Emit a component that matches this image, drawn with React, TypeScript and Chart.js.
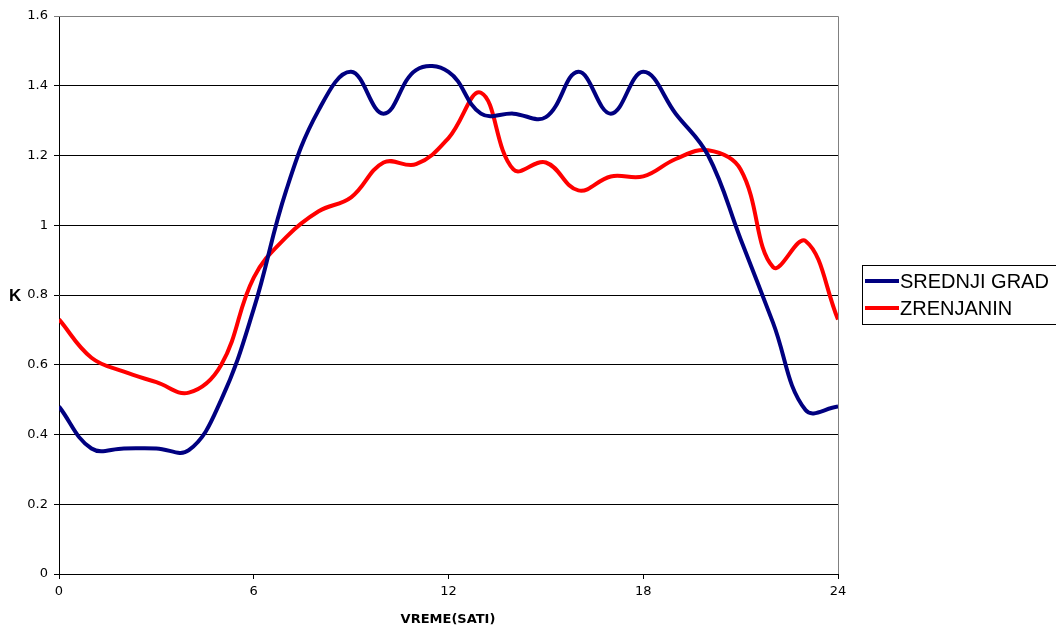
import React, { useEffect, useRef } from "react";
import { Chart, registerables } from "chart.js";

Chart.register(...registerables);

const hours = [0, 1, 2, 3, 4, 5, 6, 7, 8, 9, 10, 11, 12, 13, 14, 15, 16, 17, 18, 19, 20, 21, 22, 23, 24];
const srednjiGrad = [0.48, 0.36, 0.36, 0.36, 0.355, 0.5, 0.76, 1.1, 1.33, 1.44, 1.32, 1.445, 1.44, 1.32, 1.32, 1.31, 1.44, 1.32, 1.44, 1.32, 1.2, 0.96, 0.72, 0.47, 0.48];
const zrenjanin = [0.73, 0.62, 0.58, 0.55, 0.52, 0.6, 0.85, 0.966, 1.04, 1.08, 1.18, 1.175, 1.25, 1.38, 1.16, 1.18, 1.1, 1.14, 1.14, 1.19, 1.215, 1.16, 0.88, 0.955, 0.73];
const seriesNames = ["SREDNJI GRAD", "ZRENJANIN"];
const seriesColors = ["#000080", "#FF0000"];
const xTicks = [0, 6, 12, 18, 24];
const xTitle = "VREME(SATI)";
const yTitle = "K";

const FONT = "'Liberation Sans', Arial, sans-serif";
const TICKFONT = "'DejaVu Sans', sans-serif";

const decorPlugin = {
  id: "decor",
  afterDraw(chart: any) {
    const { ctx, chartArea } = chart;
    ctx.save();
    // gray frame top/right
    ctx.strokeStyle = "#808080";
    ctx.lineWidth = 1;
    ctx.beginPath();
    ctx.moveTo(chartArea.left, chartArea.top + 0.5);
    ctx.lineTo(chartArea.right + 0.5, chartArea.top + 0.5);
    ctx.lineTo(chartArea.right + 0.5, chartArea.bottom);
    ctx.stroke();
    // y title
    ctx.fillStyle = "#000";
    ctx.font = `bold 17px ${FONT}`;
    ctx.textAlign = "left";
    ctx.textBaseline = "middle";
    ctx.fillText(yTitle, 9, 296);
    // x title
    ctx.font = `bold 13px ${TICKFONT}`;
    ctx.textAlign = "center";
    ctx.fillText(xTitle, 448, 620);
    // legend
    ctx.strokeStyle = "#000";
    ctx.lineWidth = 1;
    ctx.strokeRect(862.5, 265.5, 200, 59);
    ctx.font = `20px ${FONT}`;
    ctx.textAlign = "left";
    ctx.textBaseline = "middle";
    const rows = [281, 308];
    seriesNames.forEach((name, i) => {
      ctx.strokeStyle = seriesColors[i];
      ctx.lineWidth = 4;
      ctx.beginPath();
      ctx.moveTo(865, rows[i]);
      ctx.lineTo(899, rows[i]);
      ctx.stroke();
      ctx.fillStyle = "#000";
      ctx.fillText(name, 900, rows[i] + 1);
    });
    ctx.restore();
  },
};

export default function App() {
  const ref = useRef<HTMLCanvasElement>(null);
  useEffect(() => {
    if (!ref.current) return;
    const chart = new Chart(ref.current, {
      type: "line",
      data: {
        datasets: [
          {
            label: seriesNames[0],
            data: hours.map((h, i) => ({ x: h, y: srednjiGrad[i] })),
            borderColor: seriesColors[0],
            borderWidth: 4,
            pointRadius: 0,
            tension: 0.4,
            fill: false,
          },
          {
            label: seriesNames[1],
            data: hours.map((h, i) => ({ x: h, y: zrenjanin[i] })),
            borderColor: seriesColors[1],
            borderWidth: 4,
            pointRadius: 0,
            tension: 0.4,
            fill: false,
          },
        ],
      },
      options: {
        animation: false,
        responsive: true,
        maintainAspectRatio: false,
        layout: { padding: { top: 16, right: 218, left: 0, bottom: 0 } },
        plugins: { legend: { display: false }, tooltip: { enabled: false } },
        scales: {
          x: {
            type: "linear",
            min: 0,
            max: 24,
            afterBuildTicks: (scale: any) => {
              scale.ticks = xTicks.map((v) => ({ value: v }));
            },
            afterFit: (scale: any) => {
              scale.height = 56;
            },
            ticks: { color: "#000", font: { family: TICKFONT, size: 13 }, padding: 5, maxRotation: 0 },
            grid: { drawOnChartArea: false, drawTicks: true, tickLength: 5, color: "#000" },
            border: { color: "#000", width: 1 },
          },
          y: {
            min: 0,
            max: 1.6,
            ticks: {
              stepSize: 0.2,
              color: "#000",
              font: { family: TICKFONT, size: 13 },
              padding: 6,
              callback: (v: any) => String(Math.round(Number(v) * 10) / 10),
            },
            afterFit: (scale: any) => {
              scale.width = 59;
            },
            grid: {
              color: (c: any) => (c.tick && Math.abs(c.tick.value - 1.6) < 1e-6 ? "#808080" : "#000"),
              lineWidth: 1,
              drawTicks: true,
              tickLength: 5,
            },
            border: { color: "#000", width: 1 },
          },
        },
      },
      plugins: [decorPlugin],
    });
    return () => chart.destroy();
  }, []);
  return (
    <div style={{ position: "absolute", left: 0, top: 0, width: 1056, height: 630, background: "#fff" }}>
      <canvas ref={ref} />
    </div>
  );
}
